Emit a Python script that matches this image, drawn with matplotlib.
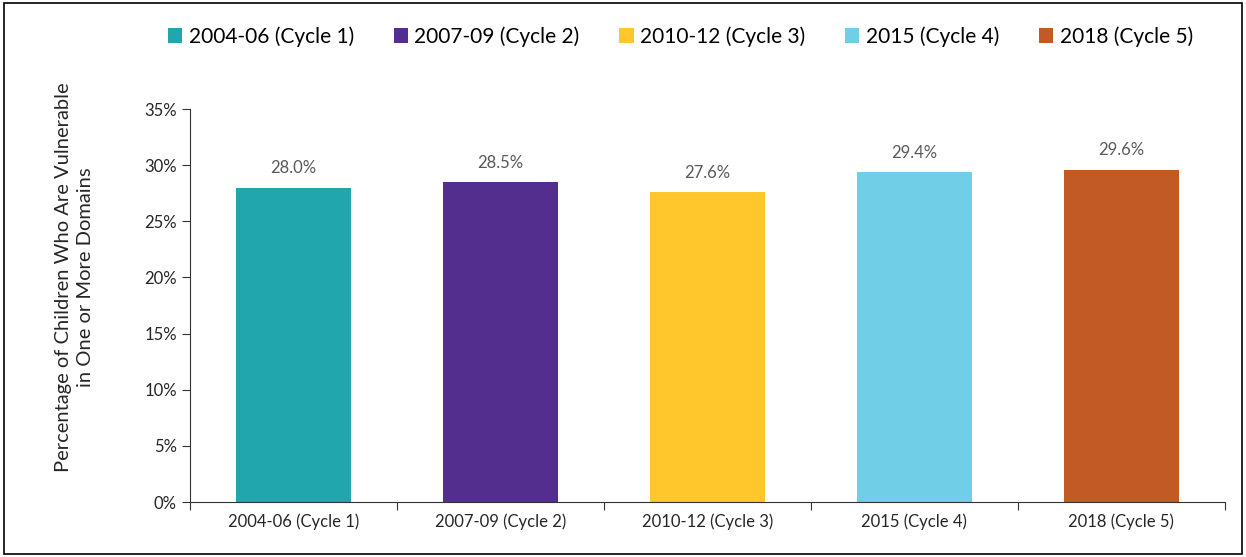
import matplotlib.pyplot as plt
from matplotlib.patches import Rectangle

categories = ["2004-06 (Cycle 1)", "2007-09 (Cycle 2)", "2010-12 (Cycle 3)",
              "2015 (Cycle 4)", "2018 (Cycle 5)"]
values = [28.0, 28.5, 27.6, 29.4, 29.6]
colors = ["#21A6AD", "#542E8F", "#FFC72C", "#70CEE6", "#C25A26"]

plt.rcParams['font.family'] = ['Lato', 'DejaVu Sans']

fig = plt.figure(figsize=(12.46, 5.57), dpi=100)
ax = fig.add_axes([0.1525, 0.0987, 0.8305, 0.7056])

x = range(len(categories))
bars = ax.bar(x, values, width=0.555, color=colors, label=categories)

for b, v in zip(bars, values):
    ax.text(b.get_x() + b.get_width() / 2, v + 1.0, "{:.1f}%".format(v),
            ha='center', va='bottom', fontsize=12, color='#595959')

ax.set_xlim(-0.5, len(categories) - 0.5)
ax.set_ylim(0, 35)
ax.set_yticks(range(0, 36, 5))
ax.set_yticklabels(["{}%".format(t) for t in range(0, 36, 5)], fontsize=12, color='#262626')
ax.set_xticks([i - 0.5 for i in range(len(categories) + 1)])
ax.set_xticklabels([])
ax.set_xticks(list(x), minor=True)
ax.set_xticklabels(categories, minor=True, fontsize=12, color='#262626')
ax.tick_params(axis='x', which='minor', length=0, pad=8)
ax.tick_params(axis='x', which='major', length=6, direction='out', color='#333333')
ax.tick_params(axis='y', length=6, direction='out', color='#333333')

for s in ['top', 'right']:
    ax.spines[s].set_visible(False)
ax.spines['left'].set_color('#333333')
ax.spines['bottom'].set_color('#333333')

ax.set_ylabel("Percentage of Children Who Are Vulnerable\nin One or More Domains",
              fontsize=14.5, color='#262626', linespacing=1.35)
ax.yaxis.set_label_coords(-0.093, 0.572)

fig.legend(handles=list(bars), labels=categories, loc='center', ncol=5,
           bbox_to_anchor=(0.546, 0.934), frameon=False, fontsize=15,
           handlelength=0.7, handleheight=0.7, handletextpad=0.3, columnspacing=1.9)

fig.patches.append(Rectangle((0.003, 0.005), 0.994, 0.99, transform=fig.transFigure,
                             fill=False, edgecolor='black', linewidth=1.2))

fig.savefig("out.png", dpi=100)
